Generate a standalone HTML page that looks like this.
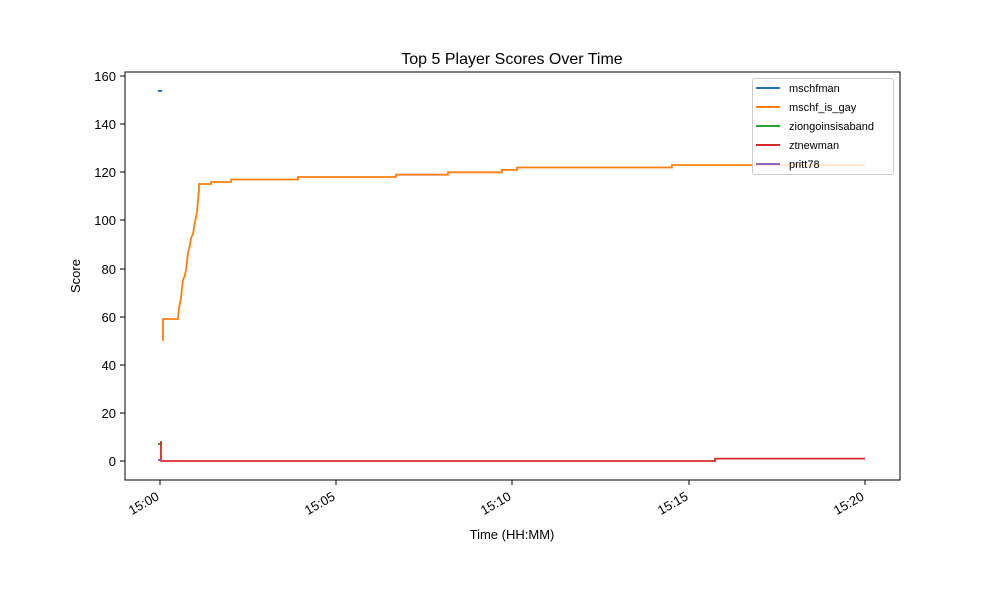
<!DOCTYPE html>
<html><head><style>body{margin:0;background:#fff}svg{display:block}text{font-family:"Liberation Sans","DejaVu Sans",sans-serif}</style></head>
<body>
<svg width="1000" height="600" xmlns="http://www.w3.org/2000/svg">
<rect width="1000" height="600" fill="#fff"/>
<text x="512" y="64" font-size="16" text-anchor="middle">Top 5 Player Scores Over Time</text>
<g stroke="#000" stroke-width="1" font-size="13">
<line x1="125" y1="461" x2="120" y2="461"/><line x1="125" y1="413" x2="120" y2="413"/><line x1="125" y1="365" x2="120" y2="365"/><line x1="125" y1="317" x2="120" y2="317"/><line x1="125" y1="269" x2="120" y2="269"/><line x1="125" y1="220" x2="120" y2="220"/><line x1="125" y1="172" x2="120" y2="172"/><line x1="125" y1="124" x2="120" y2="124"/><line x1="125" y1="76" x2="120" y2="76"/>
<line x1="160" y1="480" x2="160" y2="485"/><line x1="336" y1="480" x2="336" y2="485"/><line x1="512" y1="480" x2="512" y2="485"/><line x1="689" y1="480" x2="689" y2="485"/><line x1="865" y1="480" x2="865" y2="485"/>
</g>
<g font-size="13" text-anchor="end">
<text x="116" y="466">0</text><text x="116" y="418">20</text><text x="116" y="370">40</text><text x="116" y="322">60</text><text x="116" y="274">80</text><text x="116" y="225">100</text><text x="116" y="177">120</text><text x="116" y="129">140</text><text x="116" y="81">160</text>
</g>
<g font-size="13" text-anchor="end">
<text transform="translate(160,499) rotate(-30)">15:00</text>
<text transform="translate(336,499) rotate(-30)">15:05</text>
<text transform="translate(512,499) rotate(-30)">15:10</text>
<text transform="translate(689,499) rotate(-30)">15:15</text>
<text transform="translate(865,499) rotate(-30)">15:20</text>
</g>
<text x="512" y="539" font-size="13" text-anchor="middle">Time (HH:MM)</text>
<text transform="translate(80,276) rotate(-90)" font-size="13" text-anchor="middle">Score</text>
<line x1="158" y1="91" x2="162" y2="91" stroke="#1f77b4" stroke-width="2"/>
<polyline fill="none" stroke="#ff7f0e" stroke-width="1.8" points="163,341 163,319 178,319 179,308 181,298 182,288 183,280 185,275 186,270 187,262 188,253 190,245 191,238 193,234 194,228 195,222 197,212 198,200 199,190 199,184 211,184 211,182 231,182 231,179.5 298,179.5 298,177 396,177 396,174.7 448,174.7 448,172.3 502,172.3 502,169.9 517,169.9 517,167.5 672,167.5 672,165 865,165"/>
<line x1="158" y1="444" x2="162" y2="444" stroke="#2ca02c" stroke-width="2"/>
<polyline fill="none" stroke="#d62728" stroke-width="1.8" points="160,442 161,442 161,461 715,461 715,458.6 865,458.6"/>
<line x1="158" y1="460" x2="161" y2="460" stroke="#9467bd" stroke-width="2"/>
<rect x="125" y="72" width="775" height="408" fill="none" stroke="#000" stroke-width="1"/>
<rect x="752.5" y="78.5" width="141" height="96" rx="2" fill="#fff" fill-opacity="0.8" stroke="#ccc"/>
<g stroke-width="2" font-size="11">
<line x1="756" y1="88" x2="780" y2="88" stroke="#1f77b4"/><text x="789" y="92">mschfman</text>
<line x1="756" y1="107" x2="780" y2="107" stroke="#ff7f0e"/><text x="789" y="111">mschf_is_gay</text>
<line x1="756" y1="126" x2="780" y2="126" stroke="#2ca02c"/><text x="789" y="130">ziongoinsisaband</text>
<line x1="756" y1="145" x2="780" y2="145" stroke="#d62728"/><text x="789" y="149">ztnewman</text>
<line x1="756" y1="164" x2="780" y2="164" stroke="#9467bd"/><text x="789" y="168">pritt78</text>
</g>
</svg>
</body></html>
